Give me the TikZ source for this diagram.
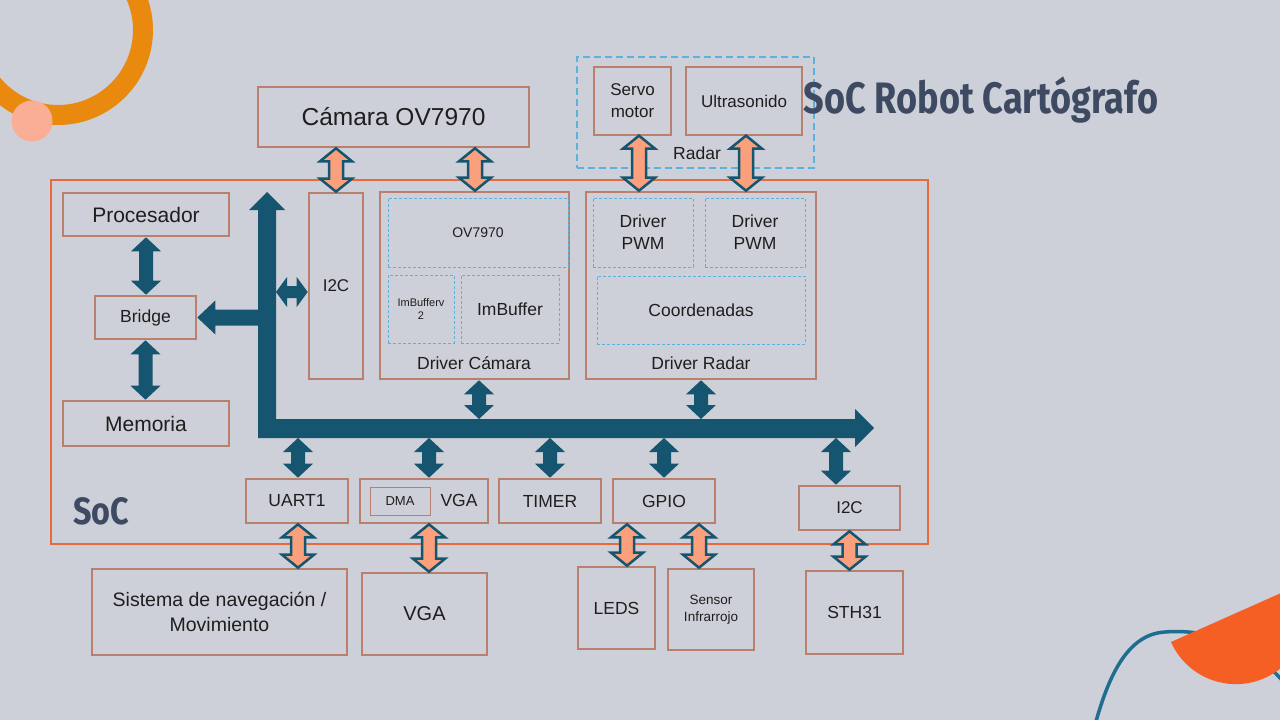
\documentclass[tikz,border=0pt]{standalone}
\usepackage{fontspec}
\setmainfont{Liberation Sans}
\newfontfamily\titlefont{Fira Sans}
\usetikzlibrary{calc}
\definecolor{bg}{RGB}{205,208,216}
\definecolor{ringor}{RGB}{233,138,14}
\definecolor{pinkc}{RGB}{249,174,149}
\definecolor{redor}{RGB}{245,95,36}
\definecolor{curveblue}{RGB}{31,110,146}
\definecolor{boxbrown}{RGB}{185,128,110}
\definecolor{socline}{RGB}{232,106,60}
\definecolor{busteal}{RGB}{22,85,112}
\definecolor{salmon}{RGB}{250,160,125}
\definecolor{dashblue}{RGB}{90,178,222}
\definecolor{titlec}{RGB}{61,74,98}
\definecolor{txt}{RGB}{30,30,30}
\newcommand\fsz[2]{\fontsize{#1}{#2}\selectfont}
% vertical double arrow: style, top point, bottom point, shaft half, head half, head length
\newcommand\vdbl[6]{%
 \path[#1] let \p1=#2, \p2=#3 in
 (\x1,\y1) -- (\x1+#5pt,\y1-#6pt) -- (\x1+#4pt,\y1-#6pt) -- (\x1+#4pt,\y2+#6pt) -- (\x1+#5pt,\y2+#6pt) -- (\x1,\y2)
 -- (\x1-#5pt,\y2+#6pt) -- (\x1-#4pt,\y2+#6pt) -- (\x1-#4pt,\y1-#6pt) -- (\x1-#5pt,\y1-#6pt) -- cycle;}
% horizontal double arrow: style, left point, right point, shaft half, head half, head length
\newcommand\hdbl[6]{%
 \path[#1] let \p1=#2, \p2=#3 in
 (\x1,\y1) -- (\x1+#6pt,\y1+#5pt) -- (\x1+#6pt,\y1+#4pt) -- (\x2-#6pt,\y1+#4pt) -- (\x2-#6pt,\y1+#5pt) -- (\x2,\y1)
 -- (\x2-#6pt,\y1-#5pt) -- (\x2-#6pt,\y1-#4pt) -- (\x1+#6pt,\y1-#4pt) -- (\x1+#6pt,\y1-#5pt) -- cycle;}
\tikzset{
 box/.style={draw=boxbrown, line width=2.6pt, text=txt, inner sep=0pt, align=center, font=\fsz{17.5}{22}},
 dbox/.style={draw=dashblue, line width=0.8pt, dash pattern=on 3pt off 2pt, text=txt, inner sep=0pt, align=center, font=\fsz{17.5}{22}},
 lbl/.style={text=txt, inner sep=0pt, align=center, font=\fsz{17.5}{22}},
 tealarrow/.style={fill=busteal},
 salarrow/.style={fill=salmon, draw=busteal, line width=2.5pt, line join=miter},
}
\begin{document}
\begin{tikzpicture}[x=1pt,y=-1pt]
\useasboundingbox (0,0) rectangle (1280,720);
\clip (0,0) rectangle (1280,720);
\fill[bg] (0,0) rectangle (1280,720);
% decorations
\draw[ringor, line width=20pt] (58,30) circle (85);
\fill[pinkc] (32,121) circle (20.5);
\draw[curveblue, line width=3.5pt] (1095,725) .. controls (1110,670) and (1130,634) .. (1165,632) .. controls (1215,628) and (1260,650) .. (1290,690);
\fill[redor] (1171,642) arc[start angle=156, end angle=-24, radius=71] -- cycle;
% SoC frame
\node[draw=socline, line width=2.5pt, minimum width=877pt, minimum height=364pt, inner sep=0pt] (soc) at (489.5,362) {};
\node[text=titlec, font=\titlefont\bfseries\fsz{38}{44}, inner sep=0pt] (soclbl) at (101,511) {\scalebox{0.85}[1]{SoC}};
% external top
\node[box, minimum width=271pt, minimum height=60pt, font=\fsz{24.5}{28}] (cam) at (393.5,117) {Cámara OV7970};
\node[draw=dashblue, line width=1.5pt, dash pattern=on 7pt off 4pt, minimum width=237pt, minimum height=111pt, inner sep=0pt] (radar) at (695.5,112.5) {};
\node[lbl] (radarlbl) at (697,153) {Radar};
\node[box, line width=1.3pt, minimum width=77pt, minimum height=68pt, font=\fsz{17}{22}] (servo) at (632.5,101) {Servo\\motor};
\node[box, line width=1.3pt, minimum width=116pt, minimum height=68pt, font=\fsz{17}{22}] (ultra) at (744,101) {Ultrasonido};
% title
\node[text=titlec, font=\titlefont\bfseries\fsz{44}{52}, inner sep=0pt] (title) at (981,100) {\scalebox{0.82}[1]{SoC Robot Cartógrafo}};
% left column
\node[box, minimum width=166pt, minimum height=43pt, font=\fsz{21}{24}] (proc) at (146,214.5) {Procesador};
\node[box, minimum width=101pt, minimum height=43pt] (bridge) at (145.5,317.5) {Bridge};
\node[box, minimum width=166pt, minimum height=45pt, font=\fsz{21}{24}] (mem) at (146,423.5) {Memoria};
\node[box, minimum width=54pt, minimum height=186pt, font=\fsz{17}{20}] (i2ca) at (336,286) {I2C};
% driver camara
\node[box, minimum width=189pt, minimum height=187pt] (dcam) at (474.5,285.5) {};
\node[dbox, minimum width=180pt, minimum height=69pt, font=\fsz{14}{17}] (ov) at (478,232.5) {OV7970};
\node[dbox, minimum width=66pt, minimum height=68pt, font=\fsz{11}{13}] (imb2) at (421,309) {ImBufferv\\2};
\node[dbox, minimum width=98pt, minimum height=68pt] (imb) at (510,309) {ImBuffer};
\node[lbl] (dcamlbl) at (474,363) {Driver Cámara};
% driver radar
\node[box, minimum width=230pt, minimum height=187pt] (drad) at (701,285.5) {};
\node[dbox, minimum width=100pt, minimum height=69pt] (pwm1) at (643,232.5) {Driver\\PWM};
\node[dbox, minimum width=100pt, minimum height=69pt] (pwm2) at (755,232.5) {Driver\\PWM};
\node[dbox, minimum width=208pt, minimum height=68pt] (coord) at (701,310) {Coordenadas};
\node[lbl] (dradlbl) at (701,363) {Driver Radar};
% peripherals
\node[box, minimum width=102pt, minimum height=44pt] (uart) at (297,501) {UART1};
\node[box, minimum width=128pt, minimum height=44pt] (vga) at (424,501) {};
\node[draw=boxbrown, line width=1pt, minimum width=60pt, minimum height=28pt, inner sep=0pt, text=txt, font=\fsz{13}{15}] (dma) at (400,501) {DMA};
\node[lbl] (vgalbl) at (459,500) {VGA};
\node[box, minimum width=102pt, minimum height=44pt] (timer) at (550,501) {TIMER};
\node[box, minimum width=102pt, minimum height=44pt] (gpio) at (664,501) {GPIO};
\node[box, minimum width=101pt, minimum height=44pt, font=\fsz{17}{20}] (i2cb) at (849.5,508) {I2C};
% external bottom
\node[box, minimum width=255pt, minimum height=86pt, font=\fsz{19.5}{25}] (nav) at (219.5,612) {Sistema de navegación /\\Movimiento};
\node[box, minimum width=125pt, minimum height=82pt, font=\fsz{20}{24}] (vgab) at (424.5,614) {VGA};
\node[box, minimum width=77pt, minimum height=82pt] (leds) at (616.5,608) {LEDS};
\node[box, minimum width=86pt, minimum height=81pt, font=\fsz{13.5}{17}] (sensor) at (711,609.5) {Sensor\\Infrarrojo};
\node[box, minimum width=97pt, minimum height=83pt] (sth) at (854.5,612.5) {STH31};
% bus
\coordinate (bustop) at (476,419);
\coordinate (busbot) at (476,438);
\coordinate (busL) at (258,317);
\coordinate (busR) at (276,292);
\fill[busteal] (258,438) -- (258,210) -- (249,210) -- (267,192) -- (285,210) -- (276,210) -- (276,419) -- (855,419) -- (855,409) -- (874,428) -- (855,447) -- (855,438) -- cycle;
\path[tealarrow] let \p1=(bridge.east), \p2=(busL) in
 (\x2,\y1+8pt) -- (\x1+18pt,\y1+8pt) -- (\x1+18pt,\y1+17pt) -- (\x1,\y1) -- (\x1+18pt,\y1-17pt) -- (\x1+18pt,\y1-8pt) -- (\x2,\y1-8pt) -- cycle;
\hdbl{tealarrow}{(busR)}{(i2ca.west)}{6}{15}{11}
% teal connectors
\vdbl{tealarrow}{(proc.south)}{(bridge.north)}{7}{15}{14}
\vdbl{tealarrow}{(bridge.south)}{(mem.north)}{7}{15}{14}
\vdbl{tealarrow}{([xshift=4.5pt]dcam.south)}{(bustop)}{7}{15}{14}
\vdbl{tealarrow}{(drad.south)}{(bustop)}{7}{15}{14}
\vdbl{tealarrow}{([xshift=1pt]uart.north |- busbot)}{(uart.north)}{7}{15}{14}
\vdbl{tealarrow}{([xshift=5pt]vga.north |- busbot)}{(vga.north)}{7}{15}{14}
\vdbl{tealarrow}{(timer.north |- busbot)}{(timer.north)}{7}{15}{14}
\vdbl{tealarrow}{(gpio.north |- busbot)}{(gpio.north)}{7}{15}{14}
\vdbl{tealarrow}{([xshift=-13.5pt]i2cb.north |- busbot)}{(i2cb.north)}{7}{15}{14}
% salmon connectors
\vdbl{salarrow}{(cam.south -| i2ca.north)}{(i2ca.north)}{7}{16}{13}
\vdbl{salarrow}{([xshift=0.5pt]cam.south -| dcam.north)}{(dcam.north)}{7}{16}{13}
\vdbl{salarrow}{([xshift=6.5pt]servo.south)}{(drad.north)}{7}{16}{13}
\vdbl{salarrow}{([xshift=2pt]ultra.south)}{(drad.north)}{7}{16}{13}
\vdbl{salarrow}{([xshift=1pt]uart.south)}{(nav.north)}{7}{16}{13}
\vdbl{salarrow}{([xshift=5pt]vga.south)}{(vgab.north)}{7}{16}{13}
\vdbl{salarrow}{([xshift=-37pt]gpio.south)}{(leds.north)}{7}{16}{13}
\vdbl{salarrow}{([xshift=35pt]gpio.south)}{(sensor.north)}{7}{16}{13}
\vdbl{salarrow}{(i2cb.south)}{(sth.north)}{7}{16}{13}
\end{tikzpicture}
\end{document}
